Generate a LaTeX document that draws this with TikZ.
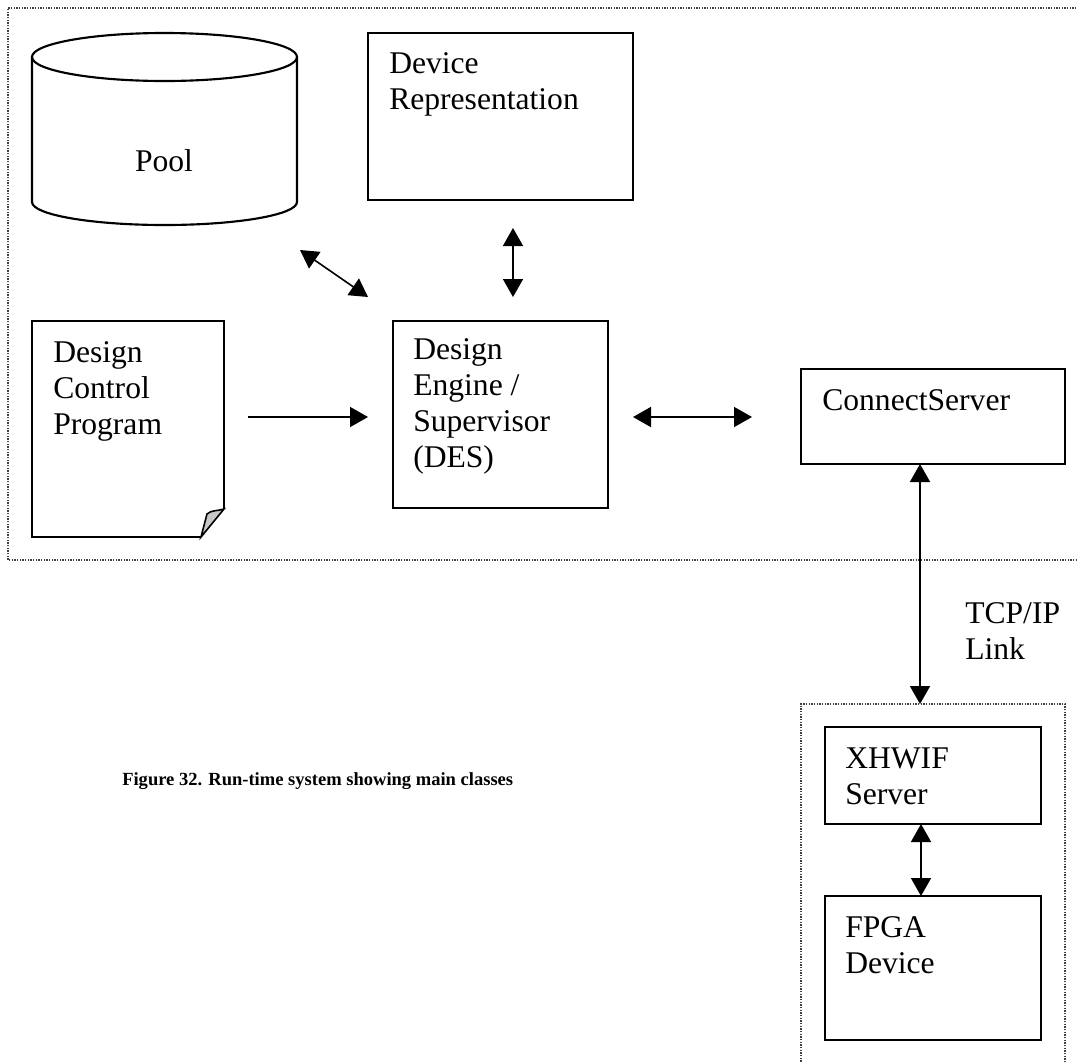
\documentclass[tikz,border=0pt]{standalone}
\usepackage{fontspec}
\setmainfont{Liberation Serif}
\usetikzlibrary{arrows.meta,fit}
\tikzset{
  boxline/.style={line width=1.6pt, line join=miter},
  box/.style={draw, line width=1.6pt, inner sep=0pt, fit={#1}},
  area/.style={inner sep=0pt, fit={#1}},
  lbl/.style={anchor=base west, inner sep=0pt, align=left, font=\fontsize{23.7pt}{27pt}\selectfont},
  conn/.style={line width=1.2pt, {Triangle[length=13.5pt,width=15pt]}-{Triangle[length=13.5pt,width=15pt]}},
  conn1/.style={line width=1.2pt, -{Triangle[length=13.5pt,width=15pt]}},
  dotbox/.style={line width=0.9pt, black!75, dash pattern=on 1pt off 1pt}
}
\begin{document}
\begin{tikzpicture}[x=0.75pt,y=-0.75pt]
\useasboundingbox (0,0) rectangle (1078,1061);

% dotted group boundaries
\begin{scope}
\clip (0,0) rectangle (1078,1061);
\draw[dotbox] (1095,8) -- (8,8) -- (8,560) -- (1095,560);
\draw[dotbox] (801,1075) -- (801,704) -- (1065,704) -- (1065,1075);
\end{scope}

% Pool (cylinder)
\node[area={(32,33) (297,225)}] (pool) {};
\draw[boxline, fill=white] (32,57) -- (32,202) arc[start angle=180, end angle=0, x radius=132.5, y radius=23] -- (297,57);
\draw[boxline] (164.5,57) ellipse [x radius=132.5, y radius=24];
\node[anchor=base, inner sep=0pt, font=\fontsize{23.7pt}{27pt}\selectfont] (poolT) at (164,171) {Pool};

% Device Representation
\node[box={(368,33) (633,200)}] (devrep) {};
\node[lbl] (devrepT) at (389,109) {Device\\Representation};

% Design Control Program (document shape)
\node[area={(32,321) (224,537)}] (dcp) {};
\draw[boxline] (201,537) -- (32,537) -- (32,321) -- (224,321) -- (224,509);
\draw[line width=1.2pt, fill=black!22] (201,537) -- (207,514) .. controls (211,510) and (218,511) .. (224,509) -- cycle;
\node[lbl] (dcpT) at (53,434) {Design\\Control\\Program};

% Design Engine / Supervisor
\node[box={(393,321) (608,508)}] (des) {};
\node[lbl] (desT) at (413,467) {Design\\Engine /\\Supervisor\\(DES)};

% ConnectServer
\node[box={(801,369) (1065,464)}] (cs) {};
\node[lbl] (csT) at (822,410) {ConnectServer};

% XHWIF Server
\node[box={(825,727) (1041,824)}] (xhwif) {};
\node[lbl] (xhwifT) at (845,804) {XHWIF\\Server};

% FPGA Device
\node[box={(825,896) (1041,1040)}] (fpga) {};
\node[lbl] (fpgaT) at (845,973) {FPGA\\Device};

% link label and caption
\node[lbl] (tcp) at (965,659) {TCP/IP\\Link};
\node[anchor=base west, inner sep=0pt, font=\bfseries\fontsize{13.9pt}{16pt}\selectfont] (cap) at (122,785) {Figure 32. Run-time system showing main classes};

% connector end points
\coordinate (a1) at (300,250);
\coordinate (a2) at (368,297);
\coordinate (b1) at (513,228);
\coordinate (b2) at (513,297);
\coordinate (c1) at (248,417);
\coordinate (c2) at (368,417);
\coordinate (d1) at (633,417);
\coordinate (d2) at (752,417);
\coordinate (e1) at (920,464);
\coordinate (e2) at (920,704);
\coordinate (f1) at (921,824);
\coordinate (f2) at (921,896);

\draw[conn] (a1) -- (a2);
\draw[conn] (b1) -- (b2);
\draw[conn1] (c1) -- (c2);
\draw[conn] (d1) -- (d2);
\draw[conn] (e1) -- (e2);
\draw[conn] (f1) -- (f2);
\end{tikzpicture}
\end{document}
